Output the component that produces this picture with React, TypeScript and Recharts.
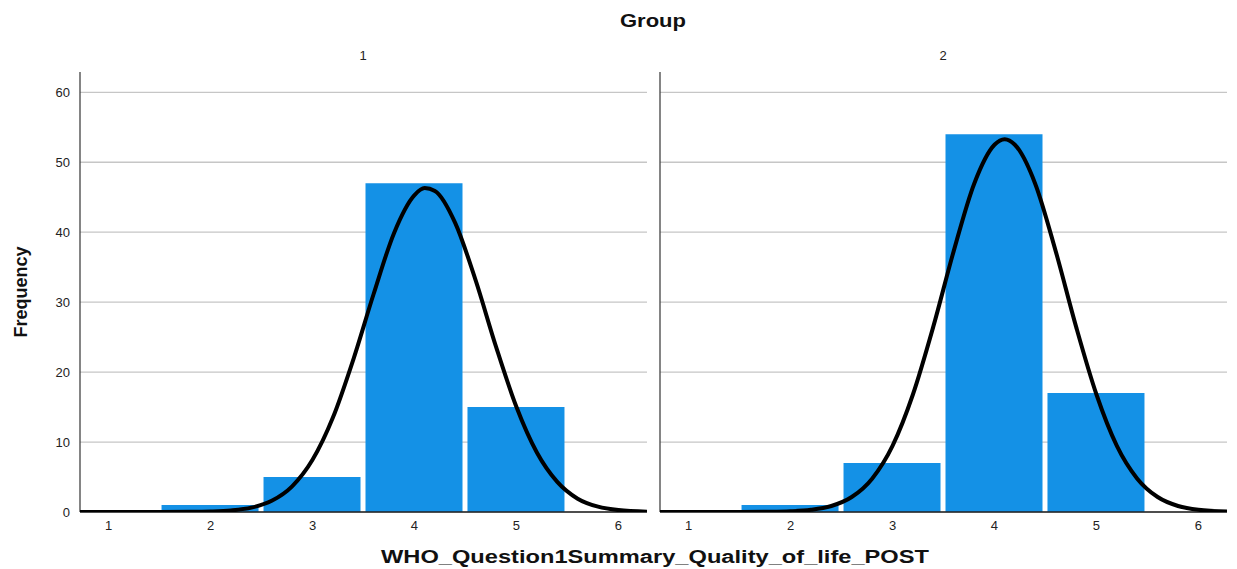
import { ComposedChart, LineChart, Bar, Line, XAxis, YAxis, CartesianGrid } from 'recharts'

// histogram bins (value on the 1-6 scale) and counts per group
const categories = [1, 2, 3, 4, 5, 6]
const group1Counts = [0, 1, 5, 47, 15, 0]
const group2Counts = [0, 1, 7, 54, 17, 0]

// normal curve
const curveX = [0.72, 1.0, 1.5, 1.8, 2.0, 2.2, 2.4, 2.6, 2.8, 3.0, 3.2, 3.4, 3.6, 3.8, 4.0, 4.1, 4.2, 4.4, 4.6, 4.8, 5.0, 5.2, 5.4, 5.6, 5.8, 6.0, 6.28]
const group1Curve = [0, 0, 0.002, 0.02, 0.07, 0.22, 0.62, 1.6, 3.67, 7.46, 13.5, 21.8, 31.2, 39.9, 45.3, 46.3, 45.9, 41.3, 33.1, 23.6, 15.0, 8.5, 4.3, 1.9, 0.76, 0.27, 0.05]
const group2Curve = [0, 0, 0.003, 0.03, 0.1, 0.31, 0.86, 2.14, 4.77, 9.46, 16.8, 26.5, 37.3, 46.9, 52.5, 53.3, 52.5, 46.9, 37.3, 26.5, 16.8, 9.46, 4.77, 2.14, 0.86, 0.31, 0.06]

const yTicks = [0, 10, 20, 30, 40, 50, 60]
const xTicks = [1, 2, 3, 4, 5, 6]
const groupLabels = ['1', '2']

const FONT = '"Liberation Sans", Arial, sans-serif'
const BLUE = '#1491E6'
const X_DOMAIN: [number, number] = [0.72, 6.28]
const Y_DOMAIN: [number, number] = [0, 62.9]
const MARGIN = { top: 72, right: 0, bottom: 27, left: 0 }
// the overlay chart hides its axes, so their room goes into the margin
const LINE_MARGIN = { top: 72, right: 0, bottom: 57, left: 80 }

type PanelProps = {
  counts: number[]
  curve: number[]
  showYLabels: boolean
}

// grid rows only at the labelled ticks (not at the top of the domain)
function gridRows({ offset }: any) {
  const top = offset.top
  const h = offset.height
  return yTicks.map((t) => top + h * (1 - (t - Y_DOMAIN[0]) / (Y_DOMAIN[1] - Y_DOMAIN[0])))
}

function Panel({ counts, curve, showYLabels }: PanelProps) {
  const bars = categories.map((c, i) => ({ x: c, count: counts[i] }))
  const line = curveX.map((x, i) => ({ x, y: curve[i] }))

  return (
    <div style={{ position: 'relative', width: 647, height: 569 }}>
      {/* grid, axes and bars */}
      <div style={{ position: 'absolute', left: 0, top: 0 }}>
        <ComposedChart width={647} height={569} data={bars} margin={MARGIN}>
          <CartesianGrid
            horizontal
            vertical={false}
            horizontalCoordinatesGenerator={gridRows}
            stroke="#c6c6c6"
            strokeWidth={1.3}
          />
          <XAxis
            dataKey="x"
            type="number"
            domain={X_DOMAIN}
            ticks={xTicks}
            allowDataOverflow
            height={30}
            tickSize={0}
            tickMargin={9}
            tickLine={false}
            axisLine={{ stroke: '#222', strokeWidth: 1.5 }}
            tick={{ fill: '#222', fontSize: 13, fontFamily: FONT }}
          />
          <YAxis
            type="number"
            domain={Y_DOMAIN}
            ticks={yTicks}
            allowDataOverflow
            width={80}
            tickSize={0}
            tickMargin={10}
            tickLine={false}
            axisLine={{ stroke: '#333', strokeWidth: 1.2 }}
            tick={showYLabels ? { fill: '#222', fontSize: 13, fontFamily: FONT } : false}
          />
          <Bar dataKey="count" fill={BLUE} barSize={97} isAnimationActive={false} />
        </ComposedChart>
      </div>
      {/* normal curve on top, same scales */}
      <div style={{ position: 'absolute', left: 0, top: 0 }}>
        <LineChart width={647} height={569} data={line} margin={LINE_MARGIN}>
          <XAxis dataKey="x" type="number" domain={X_DOMAIN} allowDataOverflow hide />
          <YAxis type="number" domain={Y_DOMAIN} allowDataOverflow hide />
          <Line
            dataKey="y"
            type="monotone"
            stroke="#000"
            strokeWidth={4}
            dot={false}
            activeDot={false}
            isAnimationActive={false}
          />
        </LineChart>
      </div>
    </div>
  )
}

export default function App() {
  return (
    <div
      style={{
        position: 'absolute',
        left: 0,
        top: 0,
        width: 1237,
        height: 569,
        background: '#fff',
        fontFamily: FONT,
      }}
    >
      <div style={{ position: 'absolute', left: 0, top: 0 }}>
        <Panel counts={group1Counts} curve={group1Curve} showYLabels />
      </div>
      <div style={{ position: 'absolute', left: 580, top: 0 }}>
        <Panel counts={group2Counts} curve={group2Curve} showYLabels={false} />
      </div>

      {/* titles */}
      <svg
        width={1237}
        height={569}
        style={{ position: 'absolute', left: 0, top: 0, pointerEvents: 'none' }}
      >
        <text
          x={653}
          y={27}
          textAnchor="middle"
          fontSize={18}
          fontWeight="bold"
          fontFamily={FONT}
          textLength={66}
          lengthAdjust="spacingAndGlyphs"
          fill="#111"
        >
          Group
        </text>
        <text x={363} y={60} textAnchor="middle" fontSize={13} fontFamily={FONT} fill="#222">
          {groupLabels[0]}
        </text>
        <text x={943} y={60} textAnchor="middle" fontSize={13} fontFamily={FONT} fill="#222">
          {groupLabels[1]}
        </text>
        <text
          x={0}
          y={0}
          transform="translate(27 292) rotate(-90)"
          textAnchor="middle"
          fontSize={18}
          fontWeight="bold"
          fontFamily={FONT}
          fill="#111"
        >
          Frequency
        </text>
        <text
          x={655}
          y={563}
          textAnchor="middle"
          fontSize={18}
          fontWeight="bold"
          fontFamily={FONT}
          textLength={548}
          lengthAdjust="spacingAndGlyphs"
          fill="#111"
        >
          WHO_Question1Summary_Quality_of_life_POST
        </text>
      </svg>
    </div>
  )
}
